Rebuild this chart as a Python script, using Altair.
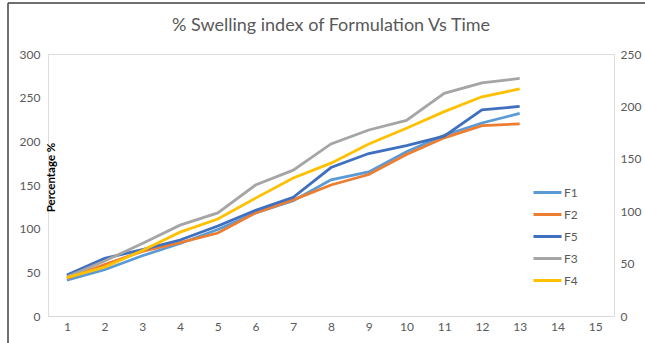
import altair as alt
import pandas as pd

time_points = list(range(1, 14))
series_order = ["F1", "F2", "F5", "F3", "F4"]
F1 = [41, 53, 69, 83, 99, 118, 132, 156, 165, 188, 207, 221, 232]
F2 = [43, 59, 74, 84, 95, 118, 133, 150, 162, 185, 204, 218, 220]
F5 = [47, 66, 76, 87, 103, 121, 136, 170, 186, 195, 206, 236, 240]
F3 = [45, 63, 83, 104, 118, 150, 167, 197, 213, 224, 255, 267, 272]
F4 = [44, 56, 75, 96, 111, 135, 158, 175, 197, 215, 234, 251, 260]
colors = ["#5B9BD5", "#ED7D31", "#3F6FBF", "#A5A5A5", "#FFC000"]
x_ticks = list(range(1, 16))

vals = {"F1": F1, "F2": F2, "F5": F5, "F3": F3, "F4": F4}
rows = []
for s in series_order:
    for t, v in zip(time_points, vals[s]):
        rows.append({"Time": t, "Value": v, "Series": s, "order": series_order.index(s)})
df = pd.DataFrame(rows)

FONT = "Lato"
GREY = "#595959"

xenc = alt.X("Time:Q", scale=alt.Scale(domain=[0.5, 15.5], nice=False, zero=False),
             axis=alt.Axis(values=x_ticks, title=None, grid=False, ticks=False,
                           domainColor="#D9D9D9", domainWidth=1, labelColor=GREY,
                           labelFontSize=12, labelPadding=5, labelFont=FONT))

lines = alt.Chart(df).mark_line(strokeWidth=2.8).encode(
    x=xenc,
    y=alt.Y("Value:Q", scale=alt.Scale(domain=[0, 300], nice=False),
            axis=alt.Axis(values=[0, 50, 100, 150, 200, 250, 300], title="Percentage %",
                          grid=False, ticks=False, domain=False, labelColor=GREY,
                          labelFontSize=12, labelPadding=8, labelFont=FONT,
                          titleFont=FONT, titleFontWeight="bold", titleFontSize=11.5,
                          titleColor="#000000", titleX=-3, titleY=123, titleAngle=-90,
                          titleBaseline="top")),
    color=alt.Color("Series:N", scale=alt.Scale(domain=series_order, range=colors),
                    sort=series_order,
                    legend=alt.Legend(title=None, orient="none", legendX=484, legendY=123,
                                      symbolType="stroke", symbolSize=784,
                                      symbolStrokeWidth=3, labelFontSize=12,
                                      labelColor=GREY, labelFont=FONT, rowPadding=-5,
                                      labelOffset=1)),
    order=alt.Order("order:Q"),
)

right = alt.Chart(df).mark_point(opacity=0).encode(
    x=alt.X("Time:Q", scale=alt.Scale(domain=[0.5, 15.5], nice=False, zero=False)),
    y=alt.Y("Value:Q", scale=alt.Scale(domain=[0, 250], nice=False),
            axis=alt.Axis(orient="right", values=[0, 50, 100, 150, 200, 250], title=None,
                          grid=False, ticks=False, domain=False, labelColor=GREY,
                          labelFontSize=12, labelPadding=6, labelFont=FONT)),
)

one = alt.Data(values=[{}])
border_top = alt.Chart(one).mark_rule(color="#404040", strokeWidth=1.5).encode(
    x=alt.value(-40), x2=alt.value(597), y=alt.value(-51))
border_left = alt.Chart(one).mark_rule(color="#404040", strokeWidth=1.5).encode(
    x=alt.value(-40), y=alt.value(-51), y2=alt.value(289))

chart = alt.layer(lines, right, border_top, border_left).resolve_scale(
    y="independent"
).properties(
    width=566, height=262,
    title=alt.TitleParams("% Swelling index of Formulation Vs Time", fontSize=18,
                          font=FONT, fontWeight="normal", color=GREY, offset=-33,
                          anchor="middle"),
    autosize=alt.AutoSizeParams(type="none"),
    padding={"left": 48, "top": 54, "right": 31, "bottom": 27},
).configure_view(stroke=None).configure(background="white")

chart.save("out.html", embed_options={"renderer": "svg", "actions": False})
